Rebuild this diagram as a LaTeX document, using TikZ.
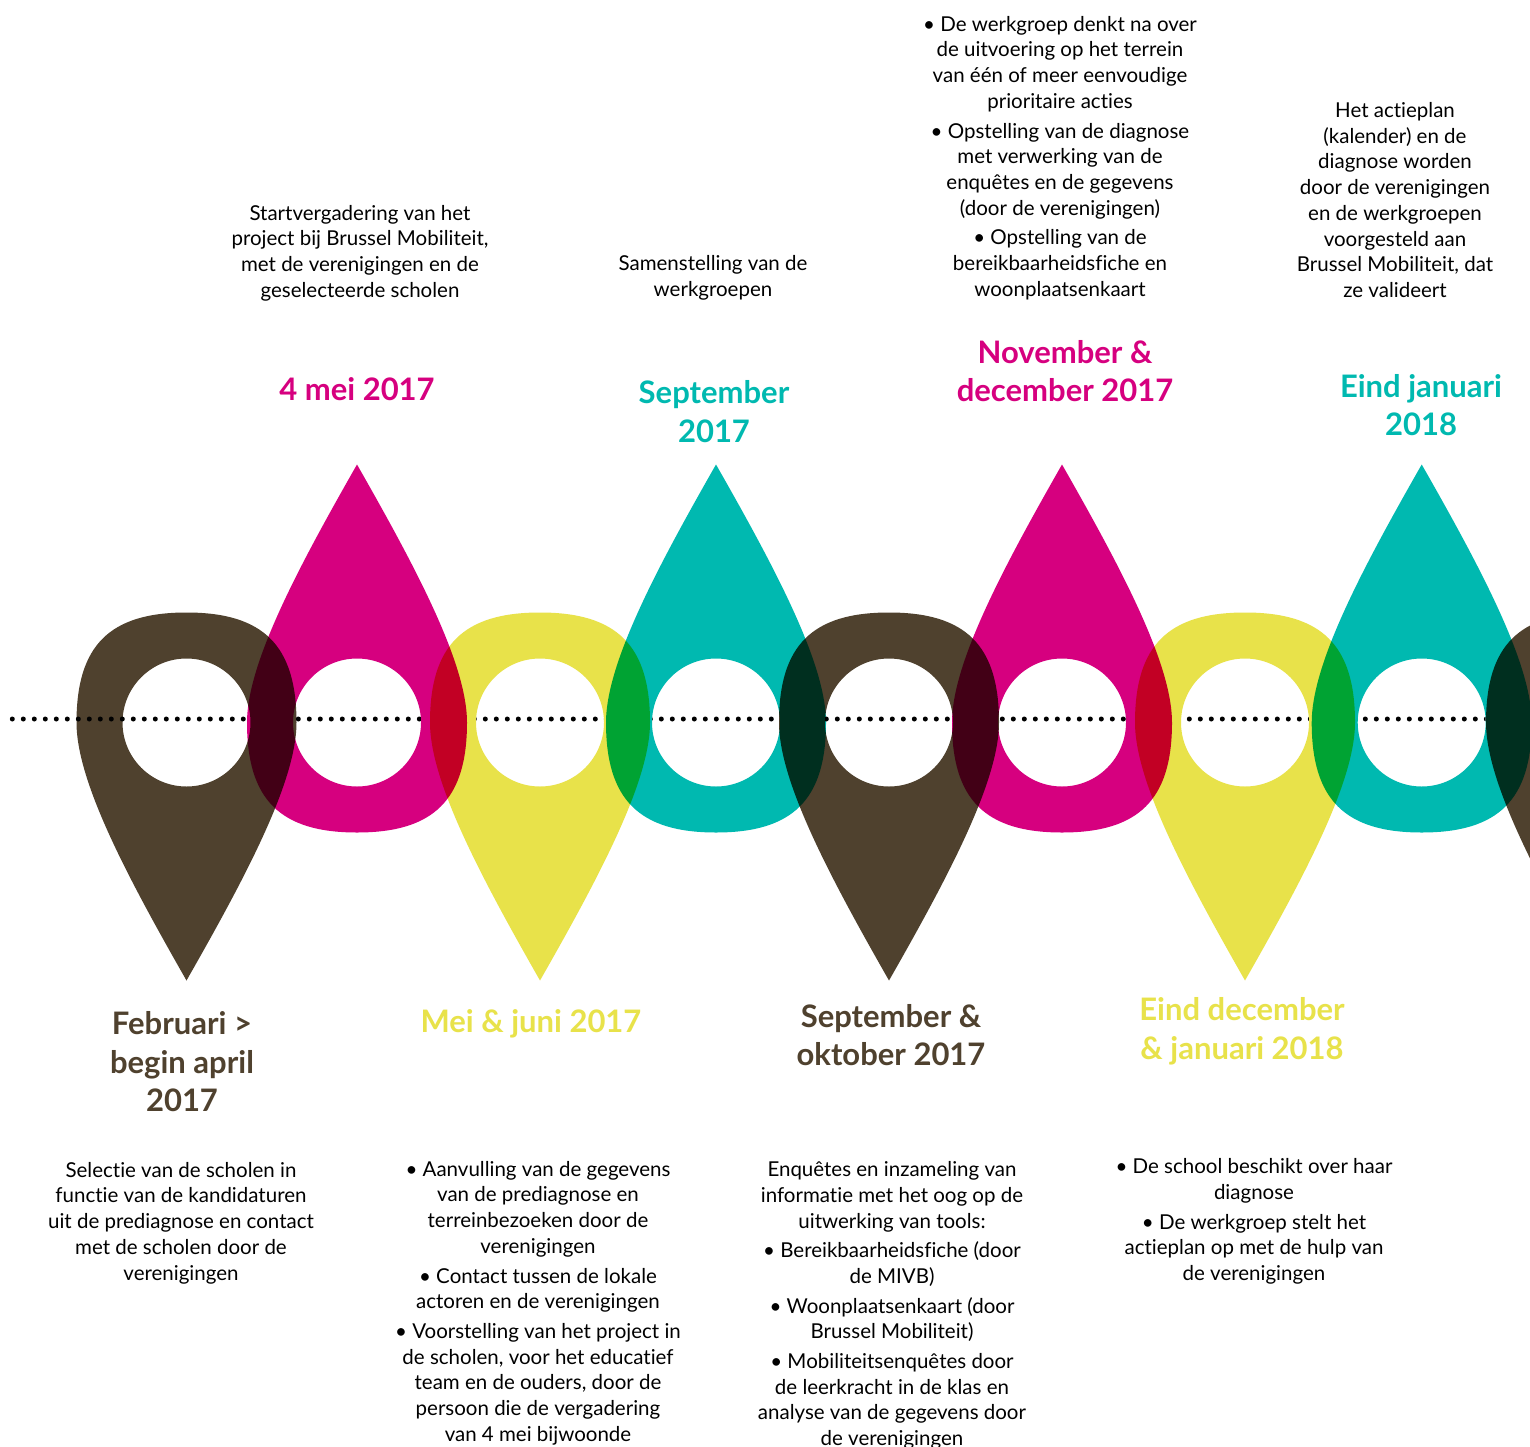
\documentclass[tikz,border=0pt]{standalone}
\usepackage{fontspec}
\setmainfont{Lato}[Ligatures=NoCommon]
\definecolor{brownc}{RGB}{79,65,46}
\definecolor{magentac}{RGB}{214,0,127}
\definecolor{yellowc}{RGB}{232,226,74}
\definecolor{tealc}{RGB}{0,185,176}
\newcommand\bodyfont{\fontsize{20.5}{25.7}\selectfont}
\newcommand\titlefont{\fontsize{31}{38.5}\selectfont\bfseries}
\newcommand\droppin[4]{%
  \fill[#4, even odd rule, shift={(#1,#2)}, yscale=#3]
    (0,258) .. controls (-57,158) and (-110,60) .. (-110,0)
    .. controls (-110,-77) and (-77,-110) .. (0,-110)
    .. controls (77,-110) and (110,-77) .. (110,0)
    .. controls (110,60) and (57,158) .. (0,258) -- cycle
    (0,0) circle[radius=64];}
\begin{document}
\begin{tikzpicture}[x=1pt,y=-1pt,
  body/.style={font=\bodyfont, align=center, text=black, inner sep=0pt},
  title/.style={font=\titlefont, align=center, inner sep=0pt},
  dotline/.style={line width=5pt, dash pattern=on 0pt off 11pt, line cap=round, black}]
\useasboundingbox[fill=white] (0,0) rectangle (1530,1447);

% pins
\begin{scope}[blend mode=multiply]
\droppin{186.5}{722.5}{1}{brownc}
\droppin{357}{722.5}{-1}{magentac}
\droppin{540}{722.5}{1}{yellowc}
\droppin{716}{722.5}{-1}{tealc}
\droppin{889}{722.5}{1}{brownc}
\droppin{1062}{722.5}{-1}{magentac}
\droppin{1245}{722.5}{1}{yellowc}
\droppin{1421.7}{722.5}{-1}{tealc}
\droppin{1596}{722.5}{1}{brownc}
\end{scope}

% dotted timeline
\coordinate (lstart) at (12.3,719);
\coordinate (lend) at (1530,719);
\coordinate (lfirst) at (245,719);
\draw[dotline] (lstart) -- (lfirst);
\foreach \cx in {357,540,716,889,1062,1245,1421.7}{
  \begin{scope}
    \clip (\cx,722.5) circle[radius=64];
    \draw[dotline] (lstart) -- (lend);
  \end{scope}
}

% top texts
\node[body] (t1) at (360,253) {Startvergadering van het\\project bij Brussel Mobiliteit,\\met de verenigingen en de\\geselecteerde scholen};
\node[title, text=magentac] (d1) at (357,389) {4 mei 2017};
\node[body] (t3) at (713,277.5) {Samenstelling van de\\werkgroepen};
\node[title, text=tealc] (d3) at (714,411.5) {September\\2017};
\node[body] (t5) at (1060,158) {• De werkgroep denkt na over\\de uitvoering op het terrein\\van één of meer eenvoudige\\prioritaire acties\\[4pt]• Opstelling van de diagnose\\met verwerking van de\\enquêtes en de gegevens\\(door de verenigingen)\\[4pt]• Opstelling van de\\bereikbaarheidsfiche en\\woonplaatsenkaart};
\node[title, text=magentac] (d5) at (1065,371) {November \&\\december 2017};
\node[body] (t7) at (1395,200) {Het actieplan\\(kalender) en de\\diagnose worden\\door de verenigingen\\en de werkgroepen\\voorgesteld aan\\Brussel Mobiliteit, dat\\ze valideert};
\node[title, text=tealc] (d7) at (1421,405) {Eind januari\\2018};

% bottom texts
\node[title, text=brownc] (d0) at (182,1062) {Februari >\\begin april\\2017};
\node[body] (t0) at (181,1223) {Selectie van de scholen in\\functie van de kandidaturen\\uit de prediagnose en contact\\met de scholen door de\\verenigingen};
\node[title, text=yellowc] (d2) at (531,1023.5) {Mei \& juni 2017};
\node[body] (t2) at (538,1303) {• Aanvulling van de gegevens\\van de prediagnose en\\terreinbezoeken door de\\verenigingen\\[4pt]• Contact tussen de lokale\\actoren en de verenigingen\\[4pt]• Voorstelling van het project in\\de scholen, voor het educatief\\team en de ouders, door de\\persoon die de vergadering\\van 4 mei bijwoonde};
\node[title, text=brownc] (d4) at (891,1035) {September \&\\oktober 2017};
\node[body] (t4) at (892,1305.5) {Enquêtes en inzameling van\\informatie met het oog op de\\uitwerking van tools:\\[4pt]• Bereikbaarheidsfiche (door\\de MIVB)\\[4pt]• Woonplaatsenkaart (door\\Brussel Mobiliteit)\\[4pt]• Mobiliteitsenquêtes door\\de leerkracht in de klas en\\analyse van de gegevens door\\de verenigingen};
\node[title, text=yellowc] (d6) at (1242,1031.5) {Eind december\\\& januari 2018};
\node[body] (t6) at (1254,1221.5) {• De school beschikt over haar\\diagnose\\[4pt]• De werkgroep stelt het\\actieplan op met de hulp van\\de verenigingen};
\end{tikzpicture}
\end{document}
